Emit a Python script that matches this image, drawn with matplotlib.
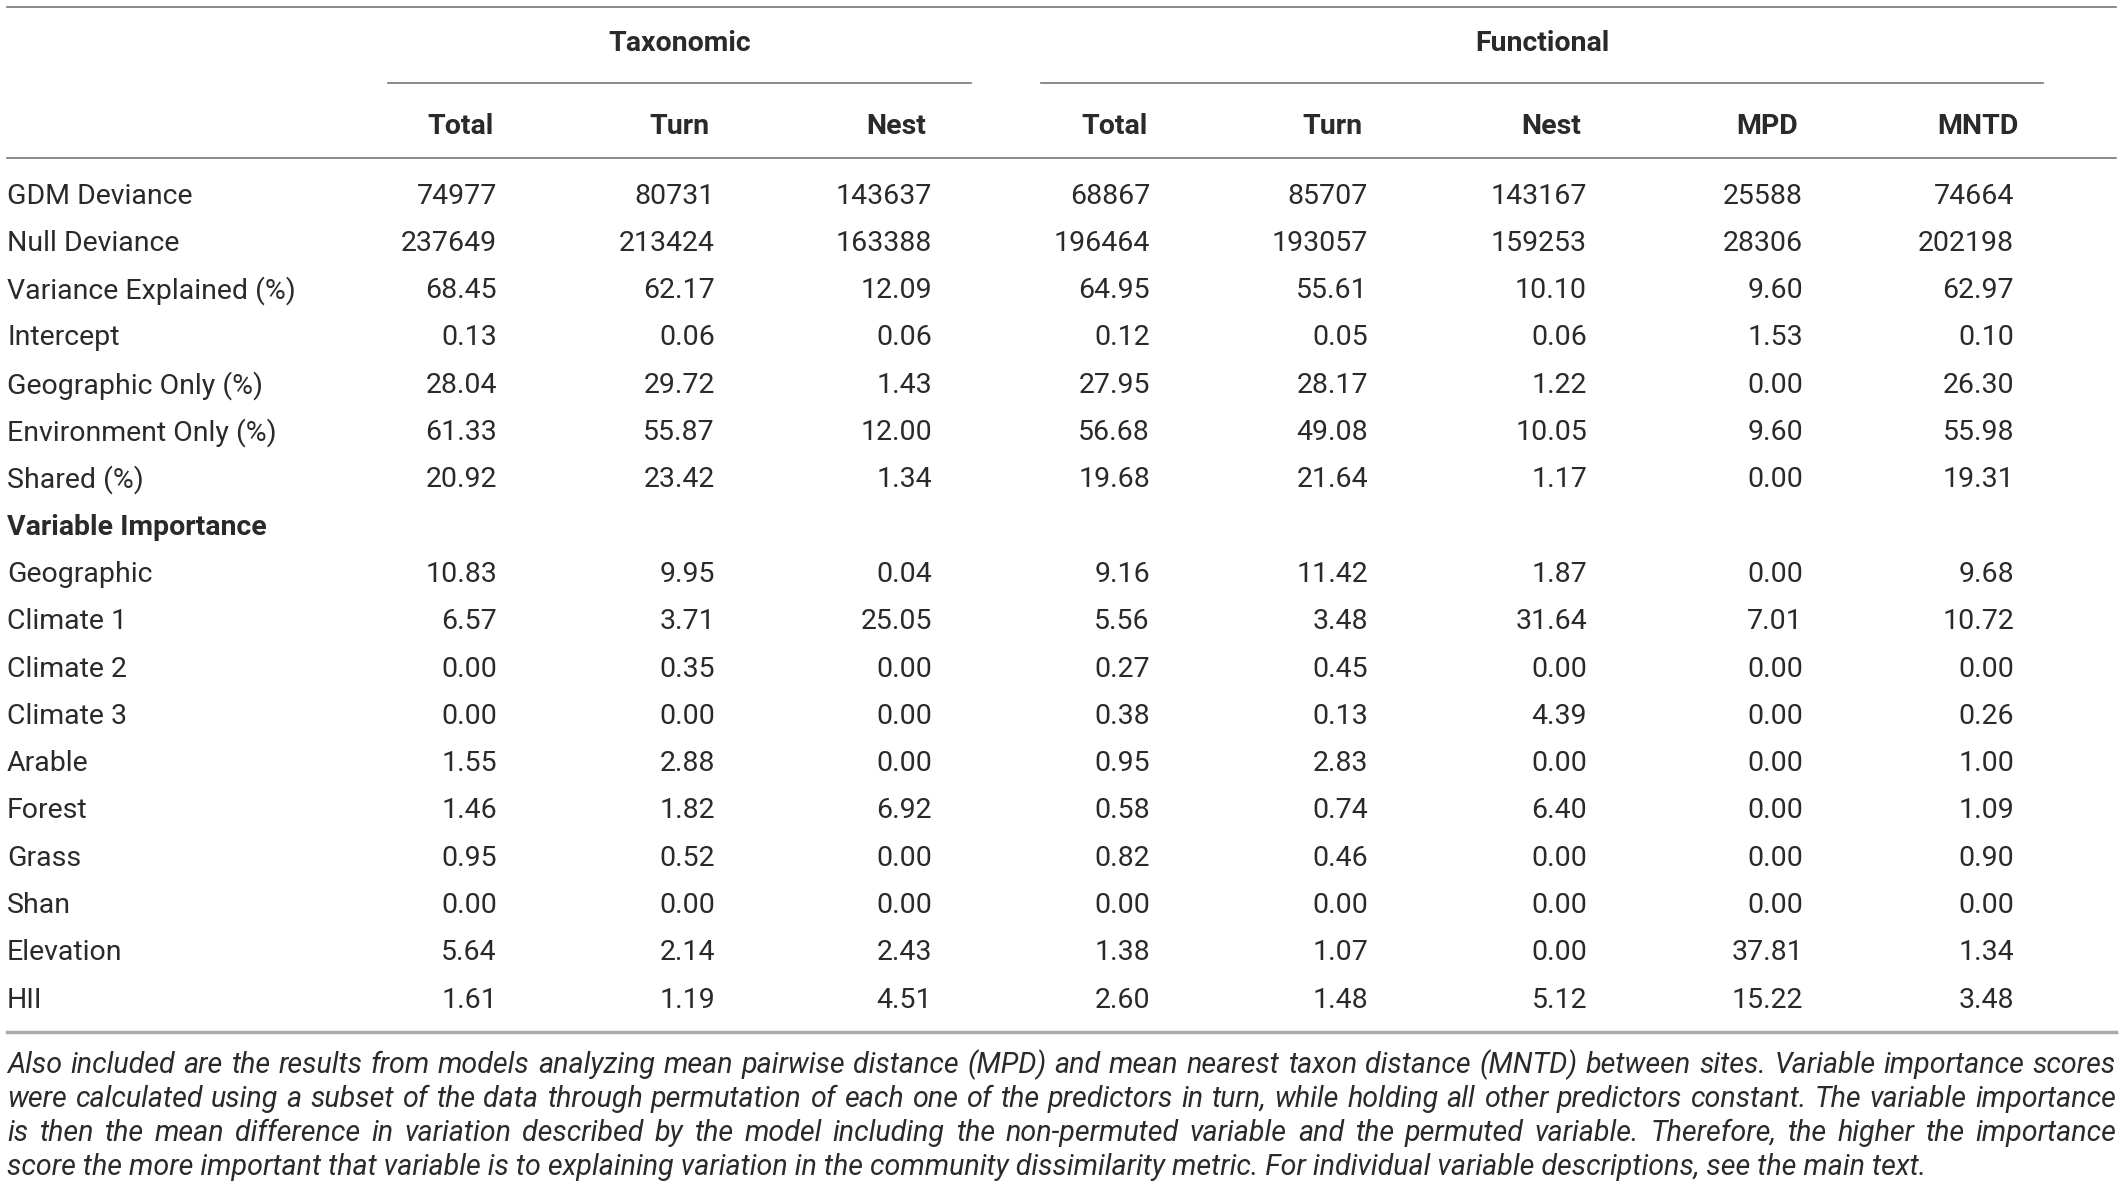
import matplotlib.pyplot as plt

plt.rcParams['font.family'] = ['Roboto', 'DejaVu Sans']

# --- data ---
groups = ['Taxonomic', 'Functional']
col_names = ['Total', 'Turn', 'Nest', 'Total', 'Turn', 'Nest', 'MPD', 'MNTD']

stat_labels = ['GDM Deviance', 'Null Deviance', 'Variance Explained (%)', 'Intercept',
               'Geographic Only (%)', 'Environment Only (%)', 'Shared (%)']
imp_title = 'Variable Importance'
imp_labels = ['Geographic', 'Climate 1', 'Climate 2', 'Climate 3', 'Arable', 'Forest',
              'Grass', 'Shan', 'Elevation', 'HII']

tax_total = [74977, 237649, 68.45, 0.13, 28.04, 61.33, 20.92,
             10.83, 6.57, 0.00, 0.00, 1.55, 1.46, 0.95, 0.00, 5.64, 1.61]
tax_turn = [80731, 213424, 62.17, 0.06, 29.72, 55.87, 23.42,
            9.95, 3.71, 0.35, 0.00, 2.88, 1.82, 0.52, 0.00, 2.14, 1.19]
tax_nest = [143637, 163388, 12.09, 0.06, 1.43, 12.00, 1.34,
            0.04, 25.05, 0.00, 0.00, 0.00, 6.92, 0.00, 0.00, 2.43, 4.51]
fun_total = [68867, 196464, 64.95, 0.12, 27.95, 56.68, 19.68,
             9.16, 5.56, 0.27, 0.38, 0.95, 0.58, 0.82, 0.00, 1.38, 2.60]
fun_turn = [85707, 193057, 55.61, 0.05, 28.17, 49.08, 21.64,
            11.42, 3.48, 0.45, 0.13, 2.83, 0.74, 0.46, 0.00, 1.07, 1.48]
fun_nest = [143167, 159253, 10.10, 0.06, 1.22, 10.05, 1.17,
            1.87, 31.64, 0.00, 4.39, 0.00, 6.40, 0.00, 0.00, 0.00, 5.12]
fun_mpd = [25588, 28306, 9.60, 1.53, 0.00, 9.60, 0.00,
           0.00, 7.01, 0.00, 0.00, 0.00, 0.00, 0.00, 0.00, 37.81, 15.22]
fun_mntd = [74664, 202198, 62.97, 0.10, 26.30, 55.98, 19.31,
            9.68, 10.72, 0.00, 0.26, 1.00, 1.09, 0.90, 0.00, 1.34, 3.48]

caption_lines = [
    "Also included are the results from models analyzing mean pairwise distance (MPD) and mean nearest taxon distance (MNTD) between sites. Variable importance scores",
    "were calculated using a subset of the data through permutation of each one of the predictors in turn, while holding all other predictors constant. The variable importance",
    "is then the mean difference in variation described by the model including the non-permuted variable and the permuted variable. Therefore, the higher the importance",
    "score the more important that variable is to explaining variation in the community dissimilarity metric. For individual variable descriptions, see the main text.",
]

columns = [tax_total, tax_turn, tax_nest, fun_total, fun_turn, fun_nest, fun_mpd, fun_mntd]

# --- layout (pixels) ---
W, H = 2120, 1195
fig = plt.figure(figsize=(W / 100, H / 100), dpi=100)
ax = fig.add_axes([0, 0, 1, 1])
ax.set_xlim(0, W)
ax.set_ylim(H, 0)
ax.axis('off')

txt_col = '#2a2a2a'
fs = 20.5
col_x = [461, 679, 896, 1114, 1332, 1551, 1767, 1978]
num_off = 36
left = 7
right = 2116
row0 = 196
dy = 47.3

# rules
ax.plot([left, right], [7, 7], color='#777777', lw=1.2)
ax.plot([388, 971], [82.5, 82.5], color='#777777', lw=1.2)
ax.plot([1041, 2043], [82.5, 82.5], color='#777777', lw=1.2)
ax.plot([left, right], [158, 158], color='#777777', lw=1.2)
ax.plot([left, right], [1032, 1032], color='#aaaaaa', lw=2.5)

# group headers
ax.text((388 + 971) / 2, 43.5, groups[0], ha='center', va='center', fontsize=fs,
        fontweight='bold', color=txt_col)
ax.text((1041 + 2043) / 2, 43.5, groups[1], ha='center', va='center', fontsize=fs,
        fontweight='bold', color=txt_col)

for x, name in zip(col_x, col_names):
    ax.text(x, 126, name, ha='center', va='center', fontsize=fs, fontweight='bold',
            color=txt_col)

# body
labels = stat_labels + [imp_title] + imp_labels
for i, lab in enumerate(labels):
    y = row0 + i * dy
    bold = lab == imp_title
    ax.text(left, y, lab, ha='left', va='center', fontsize=fs, color=txt_col,
            fontweight='bold' if bold else 'normal')
    if bold:
        continue
    k = i if i < len(stat_labels) else i - 1
    for x, col in zip(col_x, columns):
        v = col[k]
        s = str(v) if k < 2 else f'{v:.2f}'
        ax.text(x + num_off, y, s, ha='right', va='center', fontsize=fs, color=txt_col)

# caption, justified
fig.canvas.draw()
rend = fig.canvas.get_renderer()
cap_y = [1065, 1099, 1133, 1167]
cfs = 20.6
for j, line in enumerate(caption_lines):
    y = cap_y[j]
    if j == len(caption_lines) - 1:
        ax.text(left, y, line, ha='left', va='center', fontsize=cfs, style='italic',
                color=txt_col)
        continue
    words = line.split(' ')
    arts = [ax.text(0, y, w, ha='left', va='center', fontsize=cfs, style='italic',
                    color=txt_col) for w in words]
    widths = [a.get_window_extent(rend).width for a in arts]
    gap = (right - left - sum(widths)) / (len(words) - 1)
    x = left
    for a, w in zip(arts, widths):
        a.set_x(x)
        x += w + gap

fig.savefig('out.png', dpi=100, facecolor='white')
